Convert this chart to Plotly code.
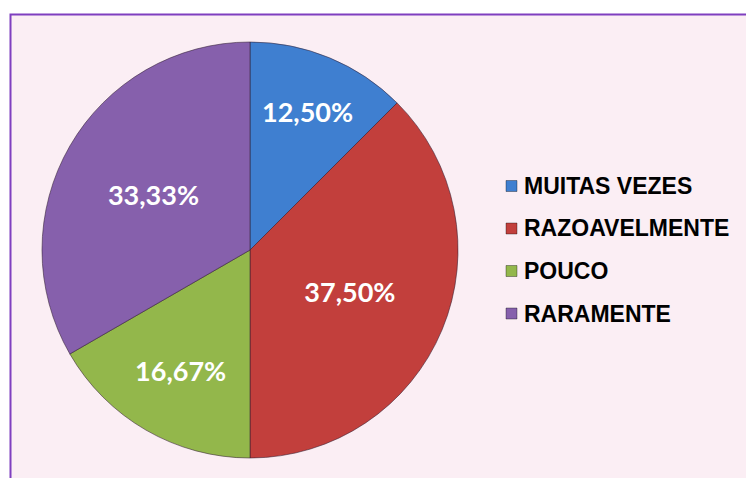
import plotly.graph_objects as go

categories = ["MUITAS VEZES", "RAZOAVELMENTE", "POUCO", "RARAMENTE"]
values = [12.50, 37.50, 16.67, 33.33]
colors = ["#3F7FD0", "#C23F3C", "#93B74B", "#8660AC"]

W, H = 754, 478
OFF = 8  # page body margin offset
labels_txt = [f"{v:.2f}%".replace(".", ",") for v in values]


def px(x):
    return (x - OFF) / W


def py(y):
    return 1 - (y - OFF) / H


fig = go.Figure()
fig.add_trace(go.Pie(
    labels=categories,
    values=values,
    text=labels_txt,
    texttemplate="%{text}",
    textposition="inside",
    insidetextorientation="horizontal",
    textfont=dict(family="Lato, Open Sans, sans-serif", size=27, color="white", weight="bold"),
    marker=dict(colors=colors, line=dict(color="rgba(50,30,50,0.55)", width=1)),
    sort=False,
    direction="clockwise",
    rotation=0,
    showlegend=False,
    hoverinfo="label+percent",
    domain=dict(x=[px(42), px(458)], y=[py(458), py(42)]),
))

# chart frame
shapes = [dict(type="rect", xref="paper", yref="paper",
               x0=px(10.5), x1=1.05, y0=-0.05, y1=py(14.5),
               fillcolor="#FBEEF4", line=dict(color="#7F3FBF", width=2), layer="below")]

# legend built from the category list
annotations = []
leg_top = 186
step = 42.5
for i, (cat, col) in enumerate(zip(categories, colors)):
    yc = leg_top + i * step
    shapes.append(dict(type="rect", xref="paper", yref="paper",
                       x0=px(506), x1=px(517),
                       y0=py(yc + 5.5), y1=py(yc - 5.5),
                       fillcolor=col, line=dict(color="rgba(0,0,0,0.35)", width=1)))
    annotations.append(dict(xref="paper", yref="paper", x=px(522), y=py(yc),
                            xanchor="left", yanchor="middle", showarrow=False,
                            text=f"<b>{cat}</b>",
                            font=dict(family="Liberation Sans, Arial, sans-serif", size=23, color="black")))

fig.update_layout(
    width=W, height=H,
    margin=dict(l=0, r=0, t=0, b=0),
    paper_bgcolor="white",
    plot_bgcolor="white",
    shapes=shapes,
    annotations=annotations,
)

fig.write_html("out.html")
